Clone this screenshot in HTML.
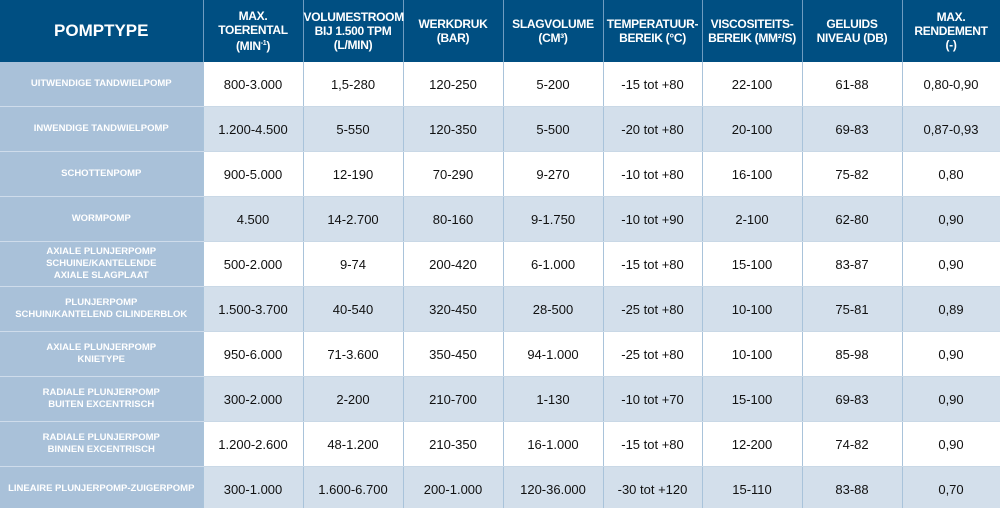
<!DOCTYPE html>
<html><head><meta charset="utf-8"><style>
html,body{margin:0;padding:0;background:#fff;width:1000px;height:508px;overflow:hidden}
table{border-collapse:collapse;table-layout:fixed;width:1000px;font-family:"Liberation Sans",sans-serif}
th{background:#004f82;color:#fff;font-weight:bold;font-size:12px;line-height:14px;height:62px;padding:0;text-align:center;border-right:1px solid #6f9cc0;letter-spacing:-0.3px}
th.first{font-size:17px;letter-spacing:0}
td{height:44px;padding:0;text-align:center;font-size:13px;color:#111;border-right:1px solid #a9c3da;border-bottom:1px solid #c9d8e6}
td.name{background:#a9c1d9;color:#fff;font-weight:bold;font-size:9.5px;line-height:12px;border-bottom:1px solid #cfdceb}
tr.alt td{background:#d3dfeb}
tr.alt td.name{background:#a9c1d9}
</style></head><body>
<table>
<colgroup><col style="width:203px"><col style="width:100px"><col style="width:100px"><col style="width:100px"><col style="width:100px"><col style="width:99px"><col style="width:100px"><col style="width:100px"><col style="width:98px"></colgroup>
<tr>
<th class="first">POMPTYPE</th>
<th>MAX. TOERENTAL<br>(MIN<sup style="font-size:7px">-1</sup>)</th>
<th>VOLUMESTROOM<br>BIJ 1.500 TPM<br>(L/MIN)</th>
<th>WERKDRUK<br>(BAR)</th>
<th>SLAGVOLUME<br>(CM³)</th>
<th>TEMPERATUUR-<br>BEREIK (°C)</th>
<th>VISCOSITEITS-<br>BEREIK (MM²/S)</th>
<th>GELUIDS<br>NIVEAU (DB)</th>
<th>MAX. RENDEMENT<br>(-)</th>
</tr>
<tr><td class="name">UITWENDIGE TANDWIELPOMP</td><td>800-3.000</td><td>1,5-280</td><td>120-250</td><td>5-200</td><td>-15 tot +80</td><td>22-100</td><td>61-88</td><td>0,80-0,90</td></tr>
<tr class="alt"><td class="name">INWENDIGE TANDWIELPOMP</td><td>1.200-4.500</td><td>5-550</td><td>120-350</td><td>5-500</td><td>-20 tot +80</td><td>20-100</td><td>69-83</td><td>0,87-0,93</td></tr>
<tr><td class="name">SCHOTTENPOMP</td><td>900-5.000</td><td>12-190</td><td>70-290</td><td>9-270</td><td>-10 tot +80</td><td>16-100</td><td>75-82</td><td>0,80</td></tr>
<tr class="alt"><td class="name">WORMPOMP</td><td>4.500</td><td>14-2.700</td><td>80-160</td><td>9-1.750</td><td>-10 tot +90</td><td>2-100</td><td>62-80</td><td>0,90</td></tr>
<tr><td class="name">AXIALE PLUNJERPOMP<br>SCHUINE/KANTELENDE<br>AXIALE SLAGPLAAT</td><td>500-2.000</td><td>9-74</td><td>200-420</td><td>6-1.000</td><td>-15 tot +80</td><td>15-100</td><td>83-87</td><td>0,90</td></tr>
<tr class="alt"><td class="name">PLUNJERPOMP<br>SCHUIN/KANTELEND CILINDERBLOK</td><td>1.500-3.700</td><td>40-540</td><td>320-450</td><td>28-500</td><td>-25 tot +80</td><td>10-100</td><td>75-81</td><td>0,89</td></tr>
<tr><td class="name">AXIALE PLUNJERPOMP<br>KNIETYPE</td><td>950-6.000</td><td>71-3.600</td><td>350-450</td><td>94-1.000</td><td>-25 tot +80</td><td>10-100</td><td>85-98</td><td>0,90</td></tr>
<tr class="alt"><td class="name">RADIALE PLUNJERPOMP<br>BUITEN EXCENTRISCH</td><td>300-2.000</td><td>2-200</td><td>210-700</td><td>1-130</td><td>-10 tot +70</td><td>15-100</td><td>69-83</td><td>0,90</td></tr>
<tr><td class="name">RADIALE PLUNJERPOMP<br>BINNEN EXCENTRISCH</td><td>1.200-2.600</td><td>48-1.200</td><td>210-350</td><td>16-1.000</td><td>-15 tot +80</td><td>12-200</td><td>74-82</td><td>0,90</td></tr>
<tr class="alt"><td class="name">LINEAIRE PLUNJERPOMP-ZUIGERPOMP</td><td>300-1.000</td><td>1.600-6.700</td><td>200-1.000</td><td>120-36.000</td><td>-30 tot +120</td><td>15-110</td><td>83-88</td><td>0,70</td></tr>
</table>
</body></html>
